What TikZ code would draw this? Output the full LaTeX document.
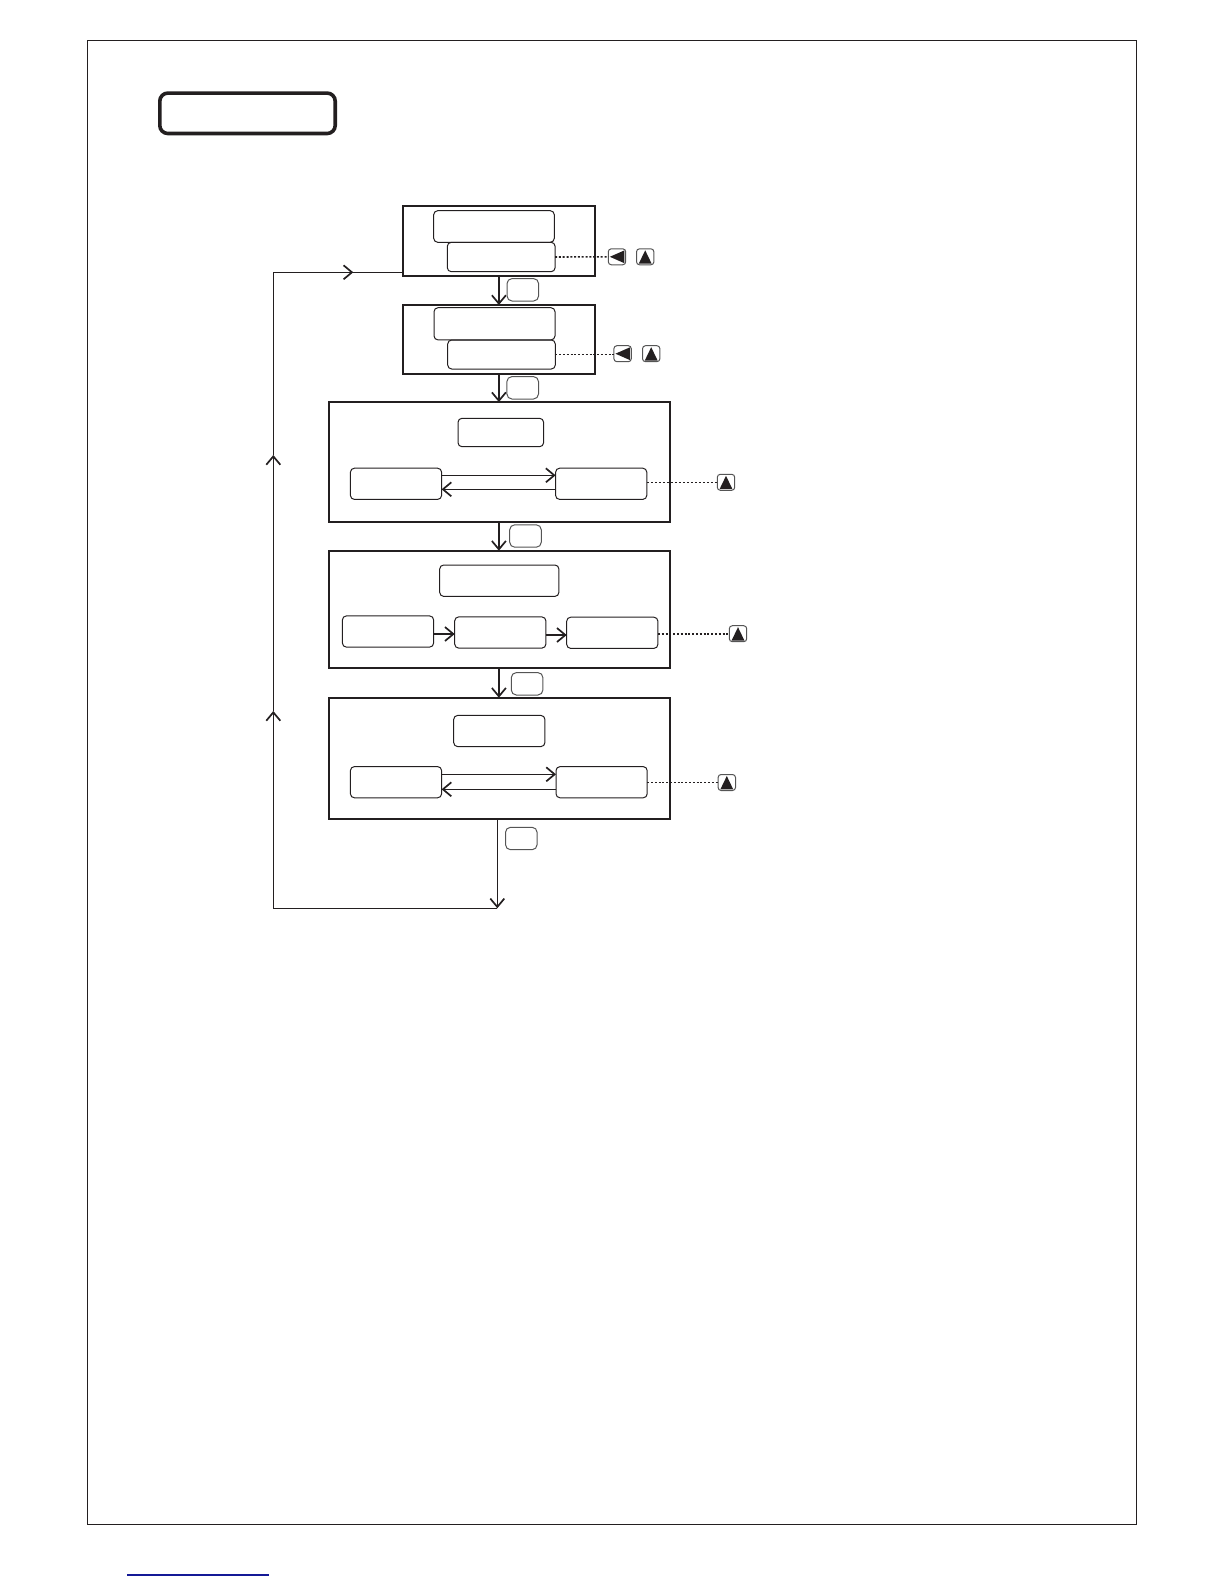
\documentclass[tikz,border=0pt]{standalone}
\usepackage{tikz}
\usetikzlibrary{calc,arrows.meta}
\definecolor{inkBlack}{RGB}{35, 31, 32}
\definecolor{keyGray}{RGB}{85, 85, 85}
\definecolor{linkBlue}{RGB}{20, 25, 150}
\tikzset{
  stepBox/.style={draw=inkBlack,line width=1pt,inner sep=0pt,outer sep=0pt},
  lcdBox/.style={draw=inkBlack,line width=0.5pt,rounded corners=2pt,inner sep=0pt,outer sep=0pt},
  lcdSmall/.style={lcdBox,minimum width=45.6pt,minimum height=15.6pt},
  keyBox/.style={draw=keyGray,line width=0.5pt,rounded corners=1.5pt,inner sep=0pt,outer sep=0pt,minimum width=8.7pt,minimum height=8pt},
  okBox/.style={draw=keyGray,line width=0.5pt,rounded corners=2.5pt,inner sep=0pt,outer sep=0pt,minimum width=15.8pt,minimum height=11.2pt},
  barb/.style={-{Straight Barb[length=4.2pt,width=7pt,line width=0.85pt]}},
  flowThick/.style={barb,draw=inkBlack,line width=1pt},
  flowMid/.style={barb,draw=inkBlack,line width=0.8pt},
  flowThin/.style={barb,draw=inkBlack,line width=0.5pt},
  dotLine/.style={draw=inkBlack,line width=0.8pt,dash pattern=on 1pt off 0.9pt},
  dotThin/.style={draw=inkBlack,line width=0.5pt,dash pattern=on 1pt off 1pt}
}
\begin{document}
\begin{tikzpicture}[x=0.5pt,y=-0.5pt]
    \useasboundingbox (0,0) rectangle (1224,1584);
    % page frame and title
    \node[draw=inkBlack,line width=0.5pt,inner sep=0pt,minimum width=524.5pt,minimum height=742pt] (frame) at (611.7,782.3) {};
    \node[draw=inkBlack,line width=1.8pt,rounded corners=4pt,inner sep=0pt,minimum width=87.7pt,minimum height=20.2pt] (title) at (247.5,113.3) {};
    % outer step boxes
    \node[stepBox,minimum width=96.2pt,minimum height=35.2pt] (stepA) at (498.9,240.9) {};
    \node[stepBox,minimum width=96.2pt,minimum height=34.4pt] (stepB) at (498.9,339.4) {};
    \node[stepBox,minimum width=170.8pt,minimum height=59.8pt] (stepC) at (499.5,461.9) {};
    \node[stepBox,minimum width=170.8pt,minimum height=58.5pt] (stepD) at (499.5,609.2) {};
    \node[stepBox,minimum width=170.8pt,minimum height=60.6pt] (stepE) at (499.5,758.3) {};
    % displays in the steps
    \node[lcdBox,minimum width=60.3pt,minimum height=15.8pt] (dispAa) at (494,226.5) {};
    \node[lcdBox,minimum width=53.9pt,minimum height=14.7pt] (dispAb) at (501.2,257) {};
    \node[lcdBox,minimum width=60.5pt,minimum height=16.1pt] (dispBa) at (494.5,323.8) {};
    \node[lcdBox,minimum width=53.8pt,minimum height=14.5pt] (dispBb) at (501.5,354.5) {};
    \node[lcdBox,minimum width=42.8pt,minimum height=14.2pt] (dispCt) at (500.8,432.5) {};
    \node[lcdSmall] (dispCl) at (396,483.8) {};
    \node[lcdSmall] (dispCr) at (601.2,483.8) {};
    \node[lcdBox,minimum width=59.6pt,minimum height=15.7pt] (dispDt) at (499.3,580.7) {};
    \node[lcdSmall] (dispDa) at (388,631.5) {};
    \node[lcdSmall] (dispDb) at (500.3,632.5) {};
    \node[lcdSmall] (dispDc) at (612.3,632.8) {};
    \node[lcdSmall] (dispEt) at (499.3,731) {};
    \node[lcdSmall] (dispEl) at (396,782.2) {};
    \node[lcdSmall] (dispEr) at (601.6,782.2) {};
    % keys
    \node[keyBox] (keyAl) at (617,256.8) {};
    \node[keyBox] (keyAu) at (645.2,256.8) {};
    \node[keyBox] (keyBl) at (622.6,353.7) {};
    \node[keyBox] (keyBu) at (651.2,353.7) {};
    \node[keyBox] (keyC) at (726,482.3) {};
    \node[keyBox] (keyD) at (738,633.7) {};
    \node[keyBox] (keyE) at (726.8,782.5) {};
    \foreach \keyname in {keyAu,keyBu,keyC,keyD,keyE} {
       \fill[inkBlack] ($(\keyname.south)+(-6.4,-1.2)$) -- ($(\keyname.south)+(6.4,-1.2)$) -- ($(\keyname.north)+(0,1.5)$) -- cycle;
     }
    \foreach \keyname in {keyAl,keyBl} {
       \fill[inkBlack] ($(\keyname.east)+(-1.3,-6.4)$) -- ($(\keyname.east)+(-1.3,6.4)$) -- ($(\keyname.west)+(1.5,0)$) -- cycle;
     }
    \node[okBox] (okA) at (522.8,289.8) {};
    \node[okBox] (okB) at (522.7,387.8) {};
    \node[okBox] (okC) at (525.5,536) {};
    \node[okBox] (okD) at (527.1,683.8) {};
    \node[okBox] (okE) at (521.3,838.5) {};
    % flow between the steps
    \draw[flowThick] (stepA) -- (stepB);
    \draw[flowThick] (stepB.south -| stepA.south) -- (stepC.north -| stepA.south);
    \draw[flowThick] (stepC.south -| stepA.south) -- (stepD.north -| stepA.south);
    \draw[flowThick] (stepD.south -| stepA.south) -- (stepE.north -| stepA.south);
    % arrows inside the steps
    \draw[flowThin] (dispCl.east |- 0,475.3) -- (dispCr.west |- 0,475.3);
    \draw[flowThin] (dispCr.west |- 0,489.3) -- (dispCl.east |- 0,489.3);
    \draw[flowMid] (dispDa.east |- 0,634) -- (dispDb.west |- 0,634);
    \draw[flowMid] (dispDb.east |- 0,635) -- (dispDc.west |- 0,635);
    \draw[flowThin] (dispEl.east |- 0,774.3) -- (dispEr.west |- 0,774.3);
    \draw[flowThin] (dispEr.west |- 0,789.3) -- (dispEl.east |- 0,789.3);
    % dotted leaders to the keys
    \draw[dotLine] (dispAb.east) -- (keyAl.west);
    \draw[dotLine] (dispBb.east) -- (dispBb.east -| keyBl.west);
    \draw[dotThin] (dispCr.east |- keyC.west) -- (keyC.west);
    \draw[dotLine] (dispDc.east |- keyD.west) -- (keyD.west);
    \draw[dotLine] (dispEr.east |- keyE.west) -- (keyE.west);
    % return path
    \coordinate (exitEnd) at (497.3,908.3);
    \coordinate (cornerLow) at (273.3,908.3);
    \coordinate (cornerTop) at (273.3,272.3);
    \coordinate (tipLow) at (273.3,711);
    \coordinate (tipHigh) at (273.3,455);
    \coordinate (tipTop) at (353.3,272.3);
    \draw[flowThin] (exitEnd |- stepE.south) -- (exitEnd);
    \draw[flowThin] (exitEnd) -- (cornerLow) -- (tipLow);
    \draw[flowThin] (tipLow) -- (tipHigh);
    \draw[flowThin] (tipHigh) -- (cornerTop) -- (tipTop);
    \draw[draw=inkBlack,line width=0.5pt] (tipTop) -- (stepA.west |- tipTop);
    % link line under the page
    \coordinate (linkL) at (127,1575);
    \coordinate (linkR) at (269,1575);
    \draw[linkBlue,line width=0.55pt] (linkL) -- (linkR);
\end{tikzpicture}
\end{document}
